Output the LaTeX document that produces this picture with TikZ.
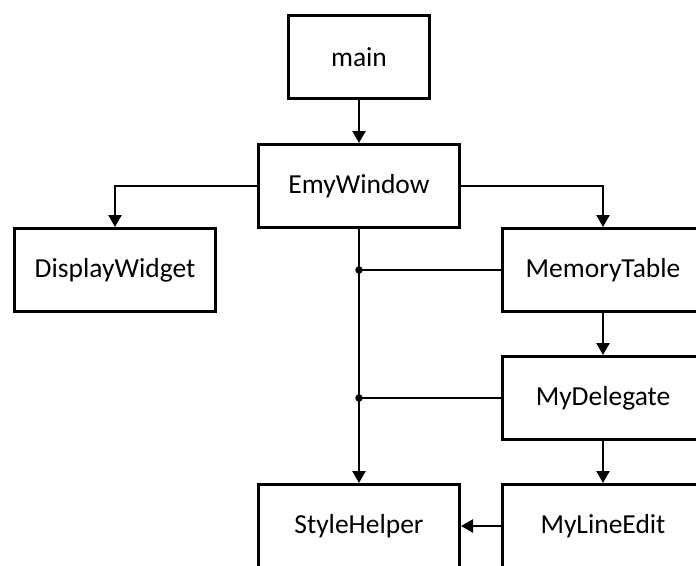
\documentclass[tikz,border=0pt]{standalone}
\usepackage{fontspec}
\setmainfont{Carlito}
\usetikzlibrary{arrows.meta}
\begin{document}
\begin{tikzpicture}[x=1pt,y=-1pt,
  box/.style={draw=black,line width=3.4pt,fill=white,minimum width=200.6pt,minimum height=82.6pt,inner sep=0pt,font=\fontsize{27.5}{33}\selectfont},
  conn/.style={line width=2.3pt,-{Triangle[width=13pt,length=12pt]}},
  plain/.style={line width=2.3pt},
  dotj/.style={circle,fill=black,inner sep=0pt,minimum size=7.5pt}]
\useasboundingbox (0,0) rectangle (696,565);
\clip (0,0) rectangle (696,565);
\fill[white] (0,0) rectangle (696,565);
\node[box,minimum width=140.6pt] (main) at (359,57) {main};
\node[box] (emy) at (359,186) {EmyWindow};
\node[box] (disp) at (115,270) {DisplayWidget};
\node[box] (mem) at (603,270) {MemoryTable};
\node[box] (del) at (603,398) {MyDelegate};
\node[box] (style) at (359,526) {StyleHelper};
\node[box] (line) at (603,526) {MyLineEdit};
\coordinate (j1) at (359,270);
\coordinate (j2) at (359,398);
\draw[conn] (main) -- (emy);
\draw[conn] (emy.west) -| (disp.north);
\draw[conn] (emy.east) -| (mem.north);
\draw[conn] (emy.south) -- (style.north);
\draw[conn] (mem) -- (del);
\draw[conn] (del) -- (line);
\draw[conn] (line) -- (style);
\draw[plain] (mem.west) -- (j1);
\draw[plain] (del.west) -- (j2);
\node[dotj] at (j1) {};
\node[dotj] at (j2) {};
\end{tikzpicture}
\end{document}
